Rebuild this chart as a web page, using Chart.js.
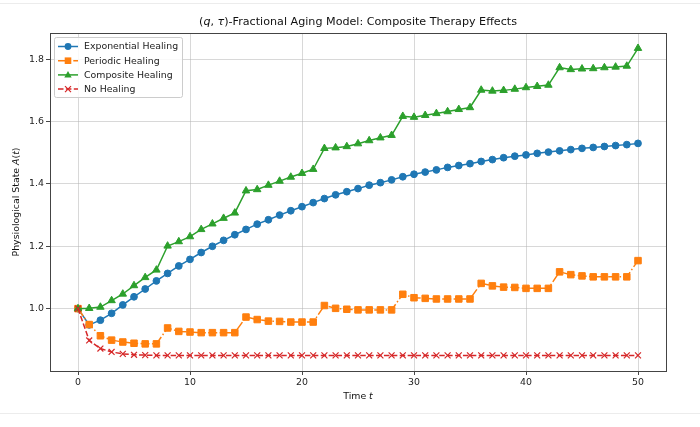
<!DOCTYPE html>
<html>
<head>
<meta charset="utf-8">
<script src="https://cdn.jsdelivr.net/npm/chart.js@4.4.1/dist/chart.umd.min.js"></script>
<style>
  body { margin: 0; background: #fff; }
  #wrap { position: relative; width: 700px; height: 427px; }
  .edge { position: absolute; left: 0; width: 700px; height: 1px; background: #ececec; }
</style>
</head>
<body>
<div id="wrap">
  <canvas id="agingChart" width="700" height="427"></canvas>
  <div class="edge" style="top:3px"></div>
  <div class="edge" style="top:413px"></div>
</div>
<script>
// Time steps
const times = [0, 1, 2, 3, 4, 5, 6, 7, 8, 9, 10, 11, 12, 13, 14, 15, 16, 17, 18, 19, 20,
  21, 22, 23, 24, 25, 26, 27, 28, 29, 30, 31, 32, 33, 34, 35, 36, 37, 38, 39, 40,
  41, 42, 43, 44, 45, 46, 47, 48, 49, 50];

// Physiological state A(t) per model
const exponentialHealing = [1.000, 0.948, 0.963, 0.985, 1.012, 1.038, 1.063, 1.089, 1.113, 1.137, 1.158,
  1.180, 1.200, 1.219, 1.237, 1.254, 1.271, 1.285, 1.300, 1.314, 1.327,
  1.340, 1.353, 1.365, 1.375, 1.385, 1.396, 1.404, 1.413, 1.423, 1.431,
  1.438, 1.445, 1.453, 1.459, 1.465, 1.472, 1.478, 1.484, 1.489, 1.493,
  1.498, 1.502, 1.506, 1.510, 1.514, 1.517, 1.520, 1.523, 1.526, 1.530];

const periodicHealing = [1.000, 0.949, 0.913, 0.899, 0.893, 0.889, 0.887, 0.887, 0.938, 0.927, 0.925,
  0.923, 0.923, 0.923, 0.923, 0.973, 0.965, 0.960, 0.959, 0.957, 0.957,
  0.957, 1.010, 1.001, 0.998, 0.996, 0.996, 0.996, 0.996, 1.046, 1.035,
  1.033, 1.031, 1.031, 1.031, 1.031, 1.081, 1.073, 1.069, 1.068, 1.065,
  1.065, 1.065, 1.118, 1.109, 1.105, 1.102, 1.102, 1.102, 1.102, 1.154];

const compositeHealing = [1.000, 1.001, 1.005, 1.026, 1.047, 1.074, 1.100, 1.124, 1.201, 1.215, 1.231,
  1.254, 1.272, 1.290, 1.307, 1.378, 1.382, 1.396, 1.409, 1.422, 1.434,
  1.447, 1.514, 1.516, 1.520, 1.529, 1.539, 1.548, 1.556, 1.617, 1.614,
  1.620, 1.626, 1.632, 1.639, 1.645, 1.701, 1.698, 1.700, 1.704, 1.709,
  1.713, 1.717, 1.773, 1.767, 1.769, 1.770, 1.773, 1.775, 1.778, 1.835];

const noHealing = [1.000, 0.898, 0.872, 0.861, 0.855, 0.852, 0.851, 0.850, 0.850, 0.850, 0.850,
  0.850, 0.850, 0.850, 0.850, 0.850, 0.850, 0.850, 0.850, 0.850, 0.850,
  0.850, 0.850, 0.850, 0.850, 0.850, 0.850, 0.850, 0.850, 0.850, 0.850,
  0.850, 0.850, 0.850, 0.850, 0.850, 0.850, 0.850, 0.850, 0.850, 0.850,
  0.850, 0.850, 0.850, 0.850, 0.850, 0.850, 0.850, 0.850, 0.850, 0.850];

const seriesLabels = ["Exponential Healing", "Periodic Healing", "Composite Healing", "No Healing"];
const xTicks = [0, 10, 20, 30, 40, 50];
const yTicks = [1.0, 1.2, 1.4, 1.6, 1.8];

const FONT = "'DejaVu Sans', sans-serif";
const TICK_PX = 9.4;

function pairs(values) {
    return values.map((v, i) => ({ x: times[i], y: v }));
}

// Draw text made of roman / italic pieces, centred on (x, y)
function drawRich(ctx, parts, x, y, size) {
    let total = 0;
    parts.forEach(p => {
        ctx.font = (p[1] ? "oblique " : "") + size + "px " + FONT;
        total += ctx.measureText(p[0]).width;
    });
    let cx = x - total / 2;
    ctx.textAlign = "left";
    ctx.textBaseline = "middle";
    parts.forEach(p => {
        ctx.font = (p[1] ? "oblique " : "") + size + "px " + FONT;
        ctx.fillText(p[0], cx, y);
        cx += ctx.measureText(p[0]).width;
    });
}

function drawMarker(ctx, style, x, y, color) {
    ctx.save();
    ctx.fillStyle = color;
    ctx.strokeStyle = color;
    ctx.setLineDash([]);
    ctx.beginPath();
    if (style === "circle") {
        ctx.arc(x, y, 3.4, 0, Math.PI * 2);
        ctx.fill();
    } else if (style === "rect") {
        ctx.rect(x - 3.3, y - 3.3, 6.6, 6.6);
        ctx.fill();
    } else if (style === "triangle") {
        ctx.moveTo(x, y - 3.9);
        ctx.lineTo(x + 3.7, y + 2.6);
        ctx.lineTo(x - 3.7, y + 2.6);
        ctx.closePath();
        ctx.fill();
    } else {
        ctx.lineWidth = 1.2;
        ctx.moveTo(x - 3, y - 3); ctx.lineTo(x + 3, y + 3);
        ctx.moveTo(x + 3, y - 3); ctx.lineTo(x - 3, y + 3);
        ctx.stroke();
    }
    ctx.restore();
}

const frameAndText = {
    id: "frameAndText",
    afterDatasetsDraw(chart) {
        const { ctx, chartArea: a } = chart;
        ctx.save();
        // full box like matplotlib spines
        ctx.strokeStyle = "#444";
        ctx.lineWidth = 1;
        ctx.strokeRect(a.left + 0.5, a.top + 0.5, a.right - a.left, a.bottom - a.top);

        // legend
        const lx = 54, ly = 37, lw = 128, lh = 60;
        ctx.fillStyle = "rgba(255,255,255,0.85)";
        ctx.strokeStyle = "#cccccc";
        ctx.lineWidth = 1;
        ctx.beginPath();
        ctx.roundRect(lx + 0.5, ly + 0.5, lw, lh, 2);
        ctx.fill();
        ctx.stroke();
        chart.data.datasets.forEach((ds, i) => {
            const yy = 46.5 + i * 14.2;
            ctx.save();
            ctx.strokeStyle = ds.borderColor;
            ctx.lineWidth = 1.5;
            ctx.setLineDash(ds.borderDash || []);
            ctx.beginPath();
            ctx.moveTo(58, yy);
            ctx.lineTo(78, yy);
            ctx.stroke();
            ctx.restore();
            drawMarker(ctx, ds.pointStyle, 68, yy, ds.borderColor);
            ctx.fillStyle = "#222";
            ctx.font = TICK_PX + "px " + FONT;
            ctx.textAlign = "left";
            ctx.textBaseline = "middle";
            ctx.fillText(ds.label, 84, yy + 0.5);
        });

        // title and axis labels
        ctx.fillStyle = "#111";
        drawRich(ctx, [["(", 0], ["q", 1], [", ", 0], ["τ", 1], [")-Fractional Aging Model: Composite Therapy Effects", 0]],
            (a.left + a.right) / 2, 22, 11.15);
        drawRich(ctx, [["Time ", 0], ["t", 1]], (a.left + a.right) / 2, 397, TICK_PX);
        ctx.save();
        ctx.translate(17, (a.top + a.bottom) / 2);
        ctx.rotate(-Math.PI / 2);
        drawRich(ctx, [["Physiological State ", 0], ["A", 1], ["(", 0], ["t", 1], [")", 0]], 0, 0, TICK_PX);
        ctx.restore();
        ctx.restore();
    }
};

const gridColor = "rgba(176,176,176,0.55)";

new Chart(document.getElementById("agingChart"), {
    type: "line",
    data: {
        datasets: [
            { label: seriesLabels[0], data: pairs(exponentialHealing), borderColor: "#1f77b4", backgroundColor: "#1f77b4",
              borderWidth: 1.5, pointStyle: "circle", pointRadius: 3.4, pointBorderWidth: 1, order: 4 },
            { label: seriesLabels[1], data: pairs(periodicHealing), borderColor: "#ff7f0e", backgroundColor: "#ff7f0e",
              borderWidth: 1.5, borderDash: [9, 2.4, 1.5, 2.4], pointStyle: "rect", pointRadius: 4.6, pointBorderWidth: 1, order: 3 },
            { label: seriesLabels[2], data: pairs(compositeHealing), borderColor: "#2ca02c", backgroundColor: "#2ca02c",
              borderWidth: 1.5, pointStyle: "triangle", pointRadius: 4.3, pointBorderWidth: 1, order: 2 },
            { label: seriesLabels[3], data: pairs(noHealing), borderColor: "#d62728", backgroundColor: "#d62728",
              borderWidth: 1.5, borderDash: [5.5, 2.4], pointStyle: "crossRot", pointRadius: 4.2, pointBorderWidth: 1.2, order: 1 }
        ]
    },
    options: {
        responsive: false,
        animation: false,
        devicePixelRatio: 1,
        layout: { padding: { left: 0, top: 33, right: 34, bottom: 0 } },
        elements: { line: { tension: 0, fill: false } },
        plugins: { legend: { display: false }, title: { display: false }, tooltip: { enabled: false } },
        scales: {
            x: {
                type: "linear", min: -2.5, max: 52.5,
                afterBuildTicks: s => { s.ticks = xTicks.map(v => ({ value: v })); },
                afterFit: s => { s.height = 56; },
                grid: { color: gridColor, lineWidth: 0.9, tickColor: "#333", tickLength: 4 },
                border: { display: false },
                ticks: { color: "#222", font: { family: FONT, size: TICK_PX }, padding: 2, maxRotation: 0 }
            },
            y: {
                type: "linear", min: 0.80, max: 1.884,
                afterBuildTicks: s => { s.ticks = yTicks.map(v => ({ value: v })); },
                afterFit: s => { s.width = 50; },
                grid: { color: gridColor, lineWidth: 0.9, tickColor: "#333", tickLength: 4 },
                border: { display: false },
                ticks: { color: "#222", font: { family: FONT, size: TICK_PX }, padding: 2,
                         callback: v => v.toFixed(1) }
            }
        }
    },
    plugins: [frameAndText]
});
</script>
</body>
</html>
